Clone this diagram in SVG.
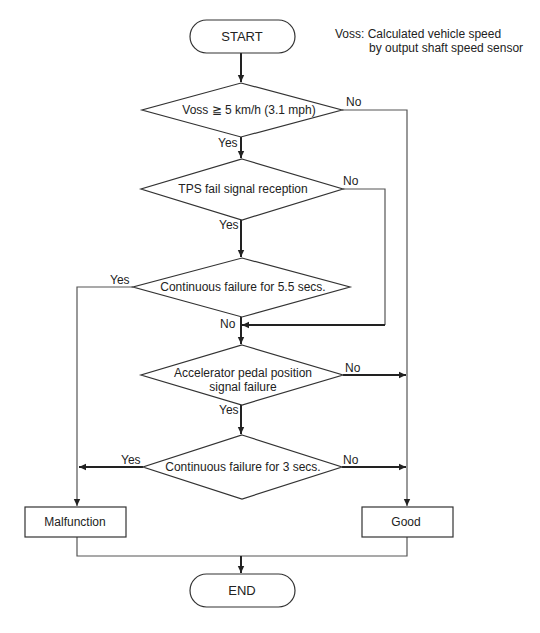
<svg xmlns="http://www.w3.org/2000/svg" width="540" height="633" viewBox="0 0 540 633">
<defs>
<marker id="ah" markerWidth="8" markerHeight="8" refX="7" refY="4" orient="auto" markerUnits="userSpaceOnUse">
<path d="M0,0.8 L7,4 L0,7.2 Z" fill="#222"/>
</marker>
</defs>
<style>
.shape{fill:#fff;stroke:#333;stroke-width:1.2}
.t{font-family:"Liberation Sans",Arial,sans-serif;font-size:12px;fill:#222}
.c{text-anchor:middle}
.thick{fill:none;stroke:#222;stroke-width:2}
.thin{fill:none;stroke:#555;stroke-width:1.2}
</style>
<rect width="540" height="633" fill="#fff"/>
<g id="connectors">
<path class="thick" d="M241,53 V82" marker-end="url(#ah)"/>
<path class="thick" d="M241,137 V158" marker-end="url(#ah)"/>
<path class="thin" d="M342,110 H407 V374"/>
<path class="thin" d="M407,374 V506" marker-end="url(#ah)"/>
<path class="thick" d="M241,220 V257" marker-end="url(#ah)"/>
<path class="thin" d="M343,189 H385 V325"/>
<path class="thick" d="M385,325 H242" marker-end="url(#ah)"/>
<path class="thick" d="M241,317 V344" marker-end="url(#ah)"/>
<path class="thin" d="M133,287 H77 V506" marker-end="url(#ah)"/>
<path class="thick" d="M343,375 H406" marker-end="url(#ah)"/>
<path class="thick" d="M241,405 V434" marker-end="url(#ah)"/>
<path class="thick" d="M143,467 H79" marker-end="url(#ah)"/>
<path class="thick" d="M342,467 H406" marker-end="url(#ah)"/>
<path class="thin" d="M77,537 V556 H407 V537"/>
<path class="thick" d="M241,556 V573" marker-end="url(#ah)"/>
<text class="t" x="346" y="106">No</text>
<text class="t" x="218" y="147">Yes</text>
<text class="t" x="343" y="185">No</text>
<text class="t" x="219" y="229">Yes</text>
<text class="t" x="110" y="284">Yes</text>
<text class="t" x="220" y="328">No</text>
<text class="t" x="345" y="372">No</text>
<text class="t" x="219" y="414">Yes</text>
<text class="t" x="121" y="464">Yes</text>
<text class="t" x="343" y="464">No</text>
</g>
<g id="note">
<text class="t" x="335" y="38">Voss: Calculated vehicle speed</text>
<text class="t" x="369" y="52">by output shaft speed sensor</text>
</g>
<g id="start">
<rect class="shape" x="190" y="20" width="105" height="33" rx="16.5"/>
<text class="t c" x="242" y="41" style="font-size:13px">START</text>
</g>
<g id="d1">
<polygon class="shape" points="241,83 342,110 241,137 142,110"/>
<text class="t c" x="249" y="114">Voss ≧ 5 km/h (3.1 mph)</text>
</g>
<g id="d2">
<polygon class="shape" points="242,159 343,189 242,220 141,189"/>
<text class="t c" x="243" y="193">TPS fail signal reception</text>
</g>
<g id="d3">
<polygon class="shape" points="242,258 350,287 242,317 133,287"/>
<text class="t c" x="243" y="291">Continuous failure for 5.5 secs.</text>
</g>
<g id="d4">
<polygon class="shape" points="242,345 343,375 242,405 141,375"/>
<text class="t c" x="243" y="377">Accelerator pedal position</text>
<text class="t c" x="243" y="391">signal failure</text>
</g>
<g id="d5">
<polygon class="shape" points="242,435 342,467 242,499 143,467"/>
<text class="t c" x="243" y="471">Continuous failure for 3 secs.</text>
</g>
<g id="malfunction">
<rect class="shape" x="25" y="507" width="101" height="30"/>
<text class="t c" x="75" y="526">Malfunction</text>
</g>
<g id="good">
<rect class="shape" x="362" y="507" width="91" height="30"/>
<text class="t c" x="406" y="526">Good</text>
</g>
<g id="end">
<rect class="shape" x="190" y="574" width="105" height="33" rx="16.5"/>
<text class="t c" x="242" y="595" style="font-size:13px">END</text>
</g>
</svg>
